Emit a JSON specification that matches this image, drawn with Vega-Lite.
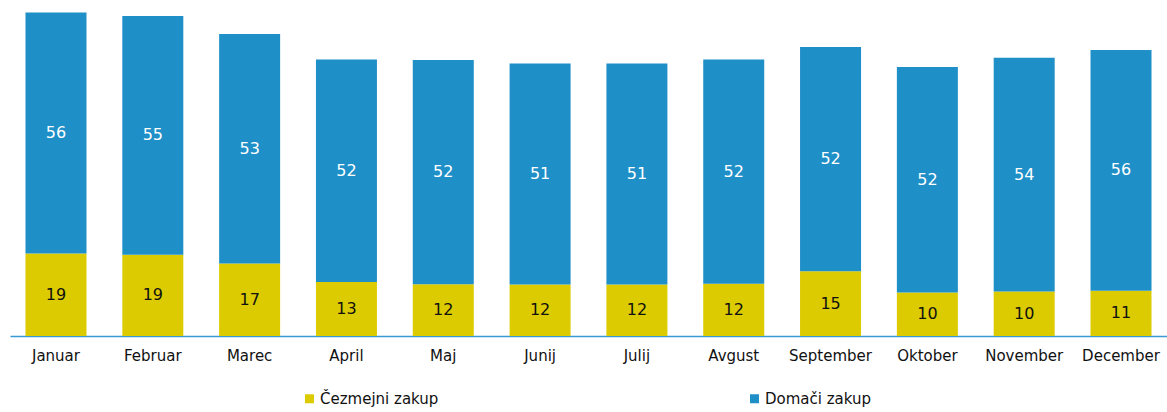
{
  "$schema": "https://vega.github.io/schema/vega-lite/v6.json",
  "width": 1157,
  "height": 336,
  "autosize": {"type": "none"},
  "padding": {"left": 10, "top": 0, "right": 0, "bottom": 76},
  "background": "white",
  "config": {
    "view": {"stroke": null},
    "font": "DejaVu Sans"
  },
  "data": {
    "values": [
      {"m": "Januar", "s": "Čezmejni zakup", "k": 1, "v": 19.1},
      {"m": "Januar", "s": "Domači zakup", "k": 2, "v": 55.8},
      {"m": "Februar", "s": "Čezmejni zakup", "k": 1, "v": 18.8},
      {"m": "Februar", "s": "Domači zakup", "k": 2, "v": 55.3},
      {"m": "Marec", "s": "Čezmejni zakup", "k": 1, "v": 16.8},
      {"m": "Marec", "s": "Domači zakup", "k": 2, "v": 53.1},
      {"m": "April", "s": "Čezmejni zakup", "k": 1, "v": 12.5},
      {"m": "April", "s": "Domači zakup", "k": 2, "v": 51.5},
      {"m": "Maj", "s": "Čezmejni zakup", "k": 1, "v": 12.0},
      {"m": "Maj", "s": "Domači zakup", "k": 2, "v": 51.9},
      {"m": "Junij", "s": "Čezmejni zakup", "k": 1, "v": 11.9},
      {"m": "Junij", "s": "Domači zakup", "k": 2, "v": 51.2},
      {"m": "Julij", "s": "Čezmejni zakup", "k": 1, "v": 11.9},
      {"m": "Julij", "s": "Domači zakup", "k": 2, "v": 51.2},
      {"m": "Avgust", "s": "Čezmejni zakup", "k": 1, "v": 12.1},
      {"m": "Avgust", "s": "Domači zakup", "k": 2, "v": 51.9},
      {"m": "September", "s": "Čezmejni zakup", "k": 1, "v": 15.0},
      {"m": "September", "s": "Domači zakup", "k": 2, "v": 51.9},
      {"m": "Oktober", "s": "Čezmejni zakup", "k": 1, "v": 10.1},
      {"m": "Oktober", "s": "Domači zakup", "k": 2, "v": 52.2},
      {"m": "November", "s": "Čezmejni zakup", "k": 1, "v": 10.3},
      {"m": "November", "s": "Domači zakup", "k": 2, "v": 54.1},
      {"m": "December", "s": "Čezmejni zakup", "k": 1, "v": 10.5},
      {"m": "December", "s": "Domači zakup", "k": 2, "v": 55.7}
    ]
  },
  "encoding": {
    "x": {
      "field": "m",
      "type": "nominal",
      "sort": null,
      "scale": {"paddingInner": 0.37, "paddingOuter": 0.16},
      "axis": {
        "title": null,
        "labelAngle": 0,
        "labelFont": "DejaVu Sans",
        "labelFontSize": 15,
        "labelColor": "#111111",
        "labelPadding": 12,
        "ticks": false,
        "domainColor": "#3a9ad6",
        "domainWidth": 1.5
      }
    },
    "y": {
      "field": "v",
      "type": "quantitative",
      "stack": "zero",
      "scale": {"domain": [0, 77.8], "nice": false, "zero": true},
      "axis": null
    },
    "order": {"field": "k", "type": "quantitative", "sort": "ascending"}
  },
  "layer": [
    {
      "mark": {"type": "bar"},
      "encoding": {
        "color": {
          "field": "s",
          "type": "nominal",
          "scale": {"domain": ["Čezmejni zakup", "Domači zakup"], "range": ["#dccb00", "#1f8fc8"]},
          "legend": {
            "title": null,
            "orient": "none",
            "legendX": 292,
            "legendY": 391,
            "direction": "horizontal",
            "symbolType": "square",
            "symbolSize": 81,
            "symbolStrokeWidth": 0,
            "labelFont": "DejaVu Sans",
            "labelFontSize": 15,
            "labelColor": "#111111",
            "labelOffset": 3,
            "columnPadding": 308
          }
        }
      }
    },
    {
      "mark": {"type": "text", "font": "DejaVu Sans", "fontSize": 16, "baseline": "middle", "align": "center"},
      "encoding": {
        "y": {"field": "v", "type": "quantitative", "stack": "zero", "bandPosition": 0.5},
        "text": {"field": "v", "type": "quantitative", "format": ".0f"},
        "color": {
          "condition": {"test": "datum.s === 'Domači zakup'", "value": "#ffffff"},
          "value": "#111111"
        }
      }
    }
  ]
}
